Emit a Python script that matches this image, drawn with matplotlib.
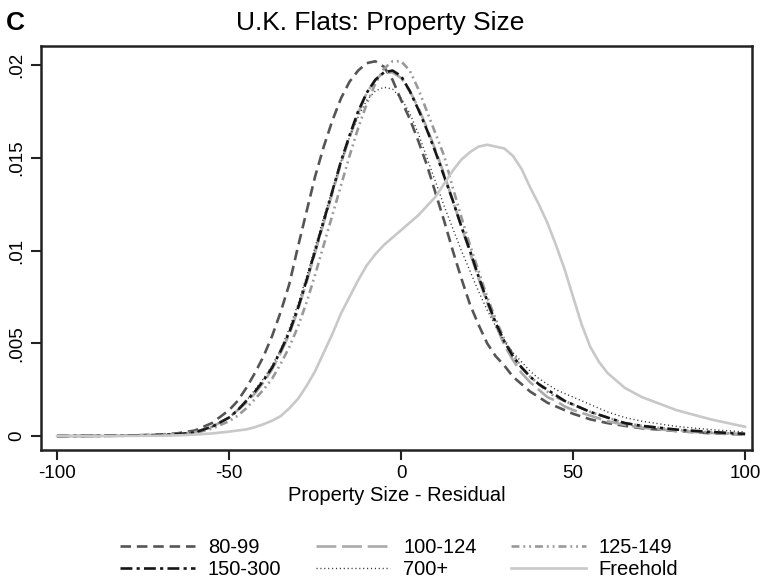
import matplotlib
matplotlib.use("Agg")
import matplotlib.pyplot as plt
import numpy as np

plt.rcParams['font.family'] = ['Liberation Sans', 'DejaVu Sans']
plt.rcParams['axes.unicode_minus'] = False

# residual grid (kernel density evaluation points)
resid = [-100, -90, -80, -70, -65, -60, -55, -50, -47.5, -45, -42.5, -40, -37.5,
         -35, -32.5, -30, -27.5, -25, -22.5, -20, -17.5, -15, -12.5, -10, -7.5,
         -5, -2.5, 0, 2.5, 5, 7.5, 10, 12.5, 15, 17.5, 20, 22.5, 25, 27.5, 30,
         32.5, 35, 37.5, 40, 42.5, 45, 47.5, 50, 52.5, 55, 57.5, 60, 65, 70, 80,
         90, 100]

dens_80_99 = [0, 0.00001, 0.00003, 0.00008, 0.00015, 0.0003, 0.0007, 0.0014, 0.0019,
              0.0026, 0.0034, 0.0043, 0.0054, 0.0067, 0.0082, 0.0102, 0.0121, 0.0140,
              0.0156, 0.0170, 0.0182, 0.0191, 0.0197, 0.0201, 0.0202, 0.0199, 0.0192,
              0.0181, 0.0171, 0.0159, 0.0146, 0.0131, 0.0116, 0.0100, 0.0085, 0.0071,
              0.0060, 0.0050, 0.0043, 0.0038, 0.0032, 0.0028, 0.0024, 0.0021, 0.0018,
              0.0016, 0.0014, 0.0012, 0.00105, 0.0009, 0.0008, 0.0007, 0.00055,
              0.00042, 0.00027, 0.00015, 0.00008]

dens_100_124 = [0, 0.00001, 0.00002, 0.00006, 0.0001, 0.0002, 0.0005, 0.0010, 0.0014,
                0.0018, 0.0023, 0.0029, 0.0036, 0.0045, 0.0055, 0.0068, 0.0083, 0.0099,
                0.0115, 0.0131, 0.0147, 0.0161, 0.0174, 0.0185, 0.0192, 0.0196, 0.0196,
                0.0193, 0.0186, 0.0177, 0.0166, 0.0154, 0.0141, 0.0127, 0.0113, 0.0099,
                0.0085, 0.0072, 0.0060, 0.0049, 0.0041, 0.0034, 0.0029, 0.0025, 0.0021,
                0.0019, 0.0016, 0.0014, 0.00125, 0.0011, 0.00095, 0.0008, 0.0006,
                0.00045, 0.00028, 0.00017, 0.0001]

dens_125_149 = [0, 0.00001, 0.00002, 0.00005, 0.00008, 0.00016, 0.0004, 0.0008, 0.0011,
                0.0015, 0.0020, 0.0025, 0.0031, 0.0039, 0.0048, 0.0059, 0.0072, 0.0087,
                0.0103, 0.0119, 0.0135, 0.0151, 0.0166, 0.0179, 0.0190, 0.0198, 0.0202,
                0.0202, 0.0197, 0.0187, 0.0175, 0.0163, 0.0151, 0.0134, 0.0118, 0.0103,
                0.0089, 0.0075, 0.0063, 0.0052, 0.0044, 0.0037, 0.0032, 0.0028, 0.0024,
                0.0021, 0.0019, 0.0017, 0.0015, 0.0013, 0.00115, 0.0010, 0.0007,
                0.00055, 0.00033, 0.0002, 0.0001]

dens_150_300 = [0, 0.00001, 0.00002, 0.00006, 0.0001, 0.0002, 0.0005, 0.0010, 0.0014,
                0.0019, 0.0024, 0.0030, 0.0037, 0.0046, 0.0056, 0.0069, 0.0084, 0.0100,
                0.0116, 0.0132, 0.0148, 0.0162, 0.0175, 0.0185, 0.0192, 0.0196, 0.0197,
                0.0194, 0.0186, 0.0176, 0.0165, 0.0153, 0.0140, 0.0127, 0.0113, 0.0100,
                0.0086, 0.0073, 0.0061, 0.0051, 0.0043, 0.0037, 0.0032, 0.0028, 0.0025,
                0.0022, 0.0019, 0.0017, 0.0015, 0.0013, 0.00115, 0.0010, 0.0007,
                0.00055, 0.00035, 0.00022, 0.00012]

dens_700 = [0, 0.00001, 0.00002, 0.00006, 0.0001, 0.0002, 0.0005, 0.0010, 0.0014,
            0.0019, 0.0025, 0.0031, 0.0038, 0.0047, 0.0058, 0.0071, 0.0086, 0.0102,
            0.0118, 0.0133, 0.0148, 0.0161, 0.0172, 0.0181, 0.0186, 0.0188, 0.0187,
            0.0182, 0.0174, 0.0163, 0.0150, 0.0137, 0.0124, 0.0112, 0.0100, 0.0089,
            0.0078, 0.0068, 0.0059, 0.0051, 0.0045, 0.0040, 0.0035, 0.0031, 0.0028,
            0.0025, 0.0023, 0.0021, 0.0019, 0.0017, 0.0015, 0.0013, 0.0010, 0.0008,
            0.00052, 0.00035, 0.00022]

dens_freehold = [0, 0.0, 0.00001, 0.00002, 0.00004, 0.00008, 0.00014, 0.00024, 0.0003,
                 0.00036, 0.00048, 0.00064, 0.00083, 0.00108, 0.0015, 0.0020, 0.0027,
                 0.0035, 0.0045, 0.0055, 0.0066, 0.0075, 0.0084, 0.0092, 0.0098, 0.0103,
                 0.0107, 0.0111, 0.0115, 0.0119, 0.0124, 0.0129, 0.0136, 0.0143, 0.0149,
                 0.0153, 0.0156, 0.0157, 0.0156, 0.0155, 0.0151, 0.0144, 0.0134, 0.0125,
                 0.0115, 0.0103, 0.0090, 0.0075, 0.0060, 0.0048, 0.0040, 0.0034, 0.0026,
                 0.0021, 0.0014, 0.0009, 0.0005]

fig = plt.figure(figsize=(7.65, 5.83), dpi=100)
ax = fig.add_axes([0.0536, 0.228, 0.9294, 0.693])

lw = 1.9
lines = {}
lines['80-99'] = ax.plot(resid, dens_80_99, color='#555555', lw=lw,
                         linestyle=(0, (4, 2.2)))[0]
lines['100-124'] = ax.plot(resid, dens_100_124, color='#aaaaaa', lw=lw,
                           linestyle=(0, (7.5, 2.2)))[0]
lines['125-149'] = ax.plot(resid, dens_125_149, color='#999999', lw=lw,
                           linestyle=(0, (3, 1.5, 0.7, 1.5, 0.7, 1.5)))[0]
lines['150-300'] = ax.plot(resid, dens_150_300, color='#161616', lw=lw,
                           linestyle=(0, (4.5, 1.6, 1.2, 1.6)))[0]
lines['700+'] = ax.plot(resid, dens_700, color='#333333', lw=1.0,
                        linestyle=(0, (0.8, 2.0)))[0]
lines['Freehold'] = ax.plot(resid, dens_freehold, color='#c8c8c8', lw=lw,
                            linestyle='-')[0]

ax.set_xlim(-104.7, 102)
ax.set_ylim(-0.000755, 0.02102)
ax.set_xticks([-100, -50, 0, 50, 100])
ax.set_yticks([0, 0.005, 0.01, 0.015, 0.02])
ax.set_yticklabels(['0', '.005', '.01', '.015', '.02'], rotation=90, va='center')
ax.tick_params(labelsize=13.5, width=1.5, length=7, color='#222222')
ax.tick_params(axis='y', pad=4)
for sp in ax.spines.values():
    sp.set_linewidth(1.8)
    sp.set_color('#222222')

ax.set_xlabel('Property Size - Residual', fontsize=14.5, labelpad=3)

fig.text(0.497, 1 - 30 / 583, 'U.K. Flats: Property Size', ha='center',
         va='baseline', fontsize=19)
fig.text(0.008, 1 - 30 / 583, 'C', ha='left', va='baseline', fontsize=19,
         fontweight='bold')

order = ['80-99', '150-300', '100-124', '700+', '125-149', 'Freehold']
fig.legend([lines[k] for k in order], order, ncol=3, loc='center',
           bbox_to_anchor=(0.522, 0.042), frameon=False, fontsize=14.5,
           handlelength=3.7, handletextpad=0.65, columnspacing=1.7,
           labelspacing=0.15, borderpad=0.2)

fig.savefig('out.png', dpi=100)
